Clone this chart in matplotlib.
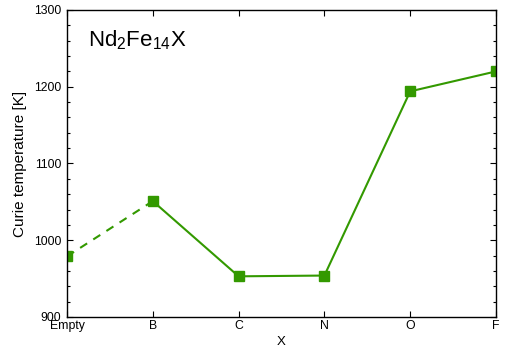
import numpy as np
import matplotlib.pyplot as plt
from matplotlib.ticker import MultipleLocator

plt.rcParams['font.family'] = ['Liberation Sans', 'DejaVu Sans']
plt.rcParams['mathtext.fontset'] = 'custom'
plt.rcParams['mathtext.rm'] = 'Liberation Sans'
plt.rcParams['mathtext.it'] = 'Liberation Sans:italic'

labels = ['Empty', 'B', 'C', 'N', 'O', 'F']
curie = [979, 1051, 953, 954, 1194, 1220]
green = '#339900'

x = np.arange(len(labels))

fig = plt.figure(figsize=(5.05, 3.5), dpi=100)
ax = fig.add_axes([67/505, 33/350, 429/505, 307/350])

# dashed link from Empty to B, solid for the rest
ax.plot(x[:2], curie[:2], color=green, lw=1.5, ls=(0, (4, 3.5)))
ax.plot(x[1:], curie[1:], color=green, lw=1.5)
ax.plot(x, curie, ls='none', marker='s', ms=7, color=green)

ax.set_xlim(0, 5)
ax.set_ylim(900, 1300)
ax.set_xticks(x)
ax.set_xticklabels(labels)
ax.yaxis.set_major_locator(MultipleLocator(100))
ax.yaxis.set_minor_locator(MultipleLocator(20))
ax.tick_params(which='both', direction='in', top=True, right=True, labelsize=8.8, pad=2)
ax.tick_params(which='major', length=4, width=0.8)
ax.tick_params(which='minor', length=2, width=0.8)
ax.tick_params(axis='y', pad=4)
for s in ax.spines.values():
    s.set_linewidth(1.0)

ax.set_xlabel('X', fontsize=9.5, labelpad=3)
ax.set_ylabel('Curie temperature [K]', fontsize=11, labelpad=5)
ax.text(0.05, 0.9, r'$\mathrm{Nd_2Fe_{14}X}$', transform=ax.transAxes, fontsize=16,
        va='center', ha='left')

fig.savefig('out.png', dpi=100)
